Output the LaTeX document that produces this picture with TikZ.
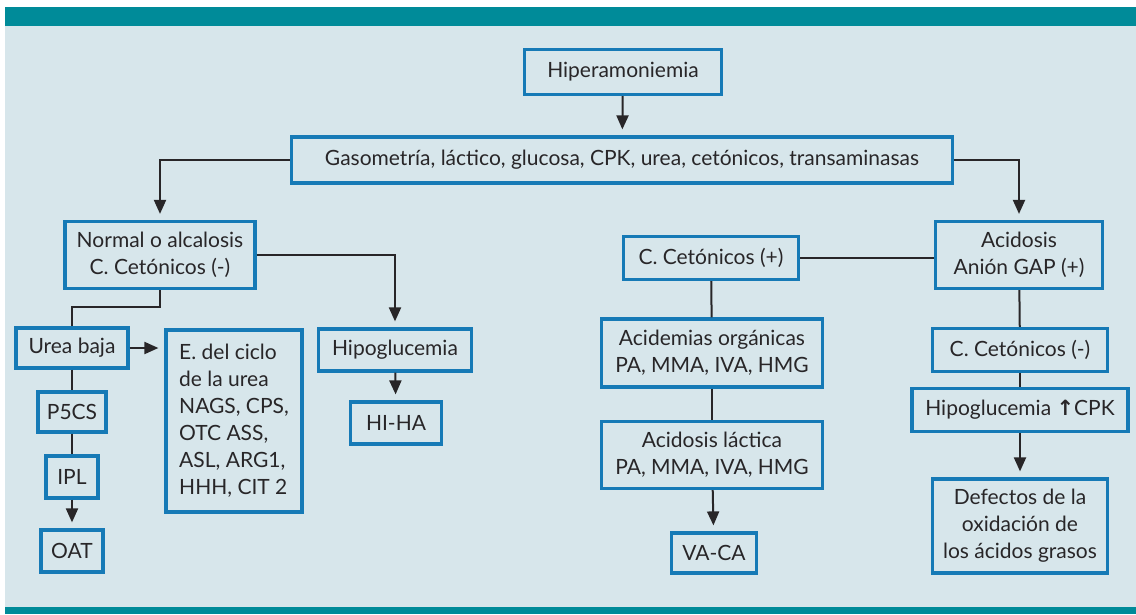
\documentclass[tikz,border=0pt]{standalone}
\usepackage{fontspec}
\setmainfont{Lato}
\newfontfamily\flechafont{DejaVu Sans}
\usetikzlibrary{positioning, arrows.meta}
\definecolor{barra}{RGB}{0,139,153}
\definecolor{fondo}{RGB}{215,230,235}
\definecolor{azul}{RGB}{22,122,182}
\definecolor{texto}{RGB}{40,38,40}
\tikzset{
caja/.style={draw=azul, line width=3.2pt, fill=fondo, align=center, inner sep=0pt,
  text=texto, font=\fontsize{21}{27}\selectfont},
linea/.style={draw=texto, line width=2pt},
flecha/.style={linea, -{Triangle[width=12pt,length=14pt]}, shorten >=6pt},
}

\begin{document}
\begin{tikzpicture}[x=1pt, y=-1pt]
    \useasboundingbox (0,0) rectangle (1136,614);
    %background and bars
    \fill[white] (0,0) rectangle (1136,614);
    \fill[fondo] (5,7) rectangle (1136,614);
    \fill[barra] (5,7) rectangle (1136,26);
    \fill[barra] (5,607) rectangle (1136,614);

    %top
    \node[caja, minimum width=197, minimum height=45] (hiper) at (623,72) {Hiperamoniemia};
    \node[caja, minimum width=661, minimum height=46] (gaso) at (622,160)
        {Gasometría, láctico, glucosa, CPK, urea, cetónicos, transaminasas};

    %left branch
    \node[caja, minimum width=190, minimum height=67] (normal) at (160,255)
        {Normal o alcalosis\\C. Cetónicos (-)};
    \node[caja, minimum width=112, minimum height=40] (urea) at (72,348) {Urea baja};
    \node[caja, minimum width=136, minimum height=182, align=left] (ciclo) at (234,421)
        {E. del ciclo\\de la urea\\NAGS, CPS,\\OTC ASS,\\ASL, ARG1,\\HHH, CIT 2};
    \node[caja, minimum width=153, minimum height=42] (hipo) at (395,350) {Hipoglucemia};
    \node[caja, minimum width=91, minimum height=42] (hiha) at (396,423) {HI-HA};
    \node[caja, minimum width=68, minimum height=40] (pcs) at (72,412) {P5CS};
    \node[caja, minimum width=52, minimum height=42] (ipl) at (72,477) {IPL};
    \node[caja, minimum width=62, minimum height=42] (oat) at (72,551) {OAT};

    %right branch
    \node[caja, minimum width=167, minimum height=67] (acidosis) at (1019,255)
        {Acidosis\\Anión GAP (+)};
    \node[caja, minimum width=175, minimum height=43] (cetpos) at (711,258) {C. Cetónicos (+)};
    \node[caja, minimum width=221, minimum height=68] (acidemias) at (712,353)
        {Acidemias orgánicas\\PA, MMA, IVA, HMG};
    \node[caja, minimum width=221, minimum height=67] (lactica) at (712,455)
        {Acidosis láctica\\PA, MMA, IVA, HMG};
    \node[caja, minimum width=85, minimum height=40] (vaca) at (714,553) {VA-CA};
    \node[caja, minimum width=175, minimum height=43] (cetneg) at (1020,350) {C. Cetónicos (-)};
    \node[caja, minimum width=216, minimum height=43] (hipocpk) at (1020,410)
        {Hipoglucemia {\flechafont\bfseries ↑}CPK};
    \node[caja, minimum width=175, minimum height=94] (defectos) at (1020,526)
        {Defectos de la\\oxidación de\\los ácidos grasos};

    %connectors top
    \draw[flecha] (hiper) -- (gaso);
    \draw[flecha] (gaso.west) -| (normal.north);
    \draw[flecha] (gaso.east) -| (acidosis.north);

    %connectors left
    \draw[flecha] (normal.east) -| (hipo.north);
    \draw[linea] (normal.south) -- ++(0,17) -| (urea.north);
    \draw[flecha] (urea.east) -- (urea.east -| ciclo.west);
    \draw[linea] (urea) -- (pcs);
    \draw[linea] (pcs) -- (ipl);
    \draw[flecha] (ipl) -- (oat);
    \draw[flecha] (hipo) -- (hiha);

    %connectors right
    \draw[linea] (cetpos.east) -- (cetpos.east -| acidosis.west);
    \draw[linea] (cetpos) -- (acidemias);
    \draw[linea] (acidemias) -- (lactica);
    \draw[flecha] (lactica) -- (vaca);
    \draw[linea] (acidosis) -- (cetneg);
    \draw[linea] (cetneg) -- (hipocpk);
    \draw[flecha] (hipocpk) -- (defectos);
\end{tikzpicture}
\end{document}
